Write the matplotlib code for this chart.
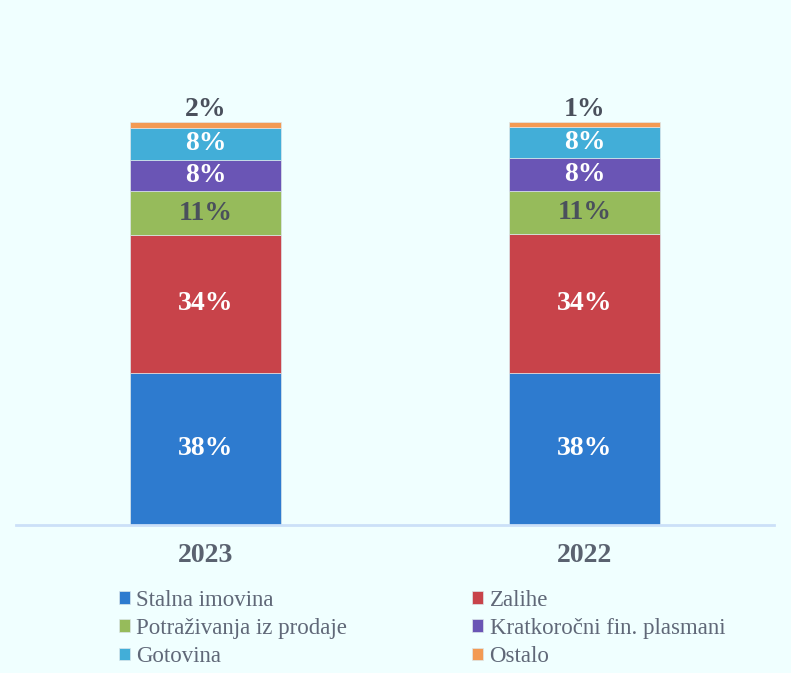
import matplotlib

matplotlib.use("Agg")
import matplotlib.pyplot as plt
import numpy as np

plt.rcParams["font.family"] = ["Liberation Serif", "DejaVu Serif"]

years = ["2023", "2022"]
categories = ["Stalna imovina", "Zalihe", "Potraživanja iz prodaje",
              "Kratkoročni fin. plasmani", "Gotovina", "Ostalo"]
# share of total assets, %
stalna = [37.8, 37.8]
zalihe = [34.1, 34.4]
potrazivanja = [10.8, 10.6]
kratkorocni = [7.9, 8.2]
gotovina = [7.8, 7.7]
ostalo = [1.6, 1.3]

series = [stalna, zalihe, potrazivanja, kratkorocni, gotovina, ostalo]
colors = ["#2E7BCF", "#C8434A", "#96BB5B", "#6A55B5", "#42AED8", "#F39A53"]
label_colors = ["white", "white", "#4A505C", "white", "white", "#4A505C"]
BG = "#F0FFFF"

fig = plt.figure(figsize=(7.91, 6.73), dpi=100, facecolor=BG)
ax = fig.add_axes([0.0202, 0.2199, 0.9583, 0.7191], facecolor=BG)

x = np.arange(len(years))
bottom = np.zeros(len(years))
handles = []
for vals, col, lcol, name in zip(series, colors, label_colors, categories):
    vals = np.array(vals)
    bars = ax.bar(x, vals, 0.4, bottom=bottom, color=col, label=name,
                  edgecolor="#DDE6EA", linewidth=0.5)
    handles.append(bars)
    for xi, v, b in zip(x, vals, bottom):
        if name == "Ostalo":
            ax.annotate(f"{v:.0f}%", (xi, b + v), xytext=(0, 0),
                        textcoords="offset points", ha="center", va="bottom",
                        fontsize=20, fontweight="bold", color=lcol)
        else:
            ax.text(xi, b + v / 2, f"{v:.0f}%", ha="center", va="center",
                    fontsize=20, fontweight="bold", color=lcol)
    bottom += vals

ax.set_xlim(-0.5, 1.5)
ax.set_ylim(0, 120)
ax.set_xticks(x)
ax.set_xticklabels(years, fontsize=20, fontweight="bold", color="#5A6270")
ax.tick_params(axis="x", length=0, pad=13)
ax.set_yticks([])
for side in ["top", "left", "right"]:
    ax.spines[side].set_visible(False)
ax.spines["bottom"].set_color("#CCE0F8")
ax.spines["bottom"].set_linewidth(2)

# column-wise order: left column first, then right column
order = [0, 2, 4, 1, 3, 5]
leg = fig.legend([handles[i] for i in order], [categories[i] for i in order],
                 ncol=2, loc="upper left", bbox_to_anchor=(0.1504, 0.124),
                 frameon=False, fontsize=16.5, handlelength=0.48, handleheight=0.48,
                 handletextpad=0.28, columnspacing=5.45, labelspacing=0.32,
                 borderpad=0, borderaxespad=0)
for t in leg.get_texts():
    t.set_color("#606878")

fig.savefig("out.png", dpi=100, facecolor=BG)
